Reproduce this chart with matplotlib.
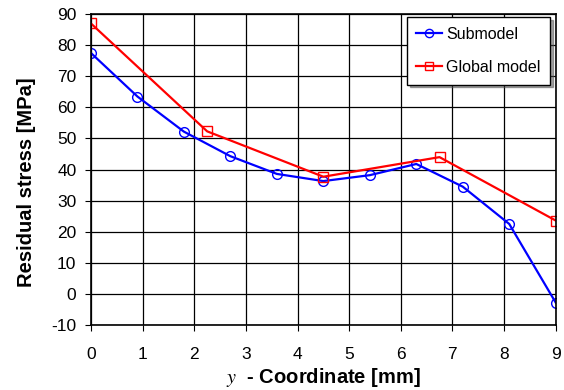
import matplotlib
matplotlib.use('Agg')
import matplotlib.pyplot as plt

plt.rcParams['font.family'] = ['Liberation Sans', 'DejaVu Sans']
plt.rcParams['mathtext.fontset'] = 'stix'
plt.rcParams['axes.unicode_minus'] = False

# Dados
sub_x = [0, 0.9, 1.8, 2.7, 3.6, 4.5, 5.4, 6.3, 7.2, 8.1, 9.0]
sub_y = [77.5, 63.5, 52.2, 44.3, 38.6, 36.3, 38.2, 41.8, 34.5, 22.5, -2.8]
glob_x = [0, 2.25, 4.5, 6.75, 9.0]
glob_y = [87.0, 52.3, 37.7, 44.0, 23.6]

fig = plt.figure(figsize=(5.64, 3.9), dpi=100)
ax = fig.add_axes([0.1613, 0.1667, 0.824, 0.797])

ax.plot(sub_x, sub_y, color='blue', lw=1.6, marker='o', ms=7,
        mfc='none', mec='blue', mew=1, label='Submodel')
ax.plot(glob_x, glob_y, color='red', lw=1.6, marker='s', ms=7,
        mfc='none', mec='red', mew=1, label='Global model')

ax.set_xlim(0, 9)
ax.set_ylim(-10, 90)
ax.set_xticks(range(0, 10))
ax.set_yticks(range(-10, 91, 10))
ax.grid(True, color='black', lw=0.9)
ax.tick_params(labelsize=12.5, direction='out', length=4.5, color='black')
ax.tick_params(axis='x', pad=11.5)
ax.tick_params(axis='y', pad=6)
for s in ax.spines.values():
    s.set_linewidth(1.2)

ax.set_xlabel('$y$  - Coordinate [mm]', fontsize=14.5, fontweight='bold', labelpad=3)
ax.set_ylabel('Residual stress [MPa]', fontsize=14.5, fontweight='bold', labelpad=8)
ax.yaxis.set_label_coords(-0.118, 0.46)

leg = ax.legend(loc='upper right', bbox_to_anchor=(550 / 564, 1 - 17 / 390),
                bbox_transform=fig.transFigure, borderaxespad=0,
                fontsize=11.5, fancybox=False, shadow=True, markerscale=0.85,
                framealpha=1, edgecolor='black', borderpad=0.6,
                handlelength=1.6, labelspacing=1.15, handletextpad=0.25)
leg.get_frame().set_linewidth(1)

fig.savefig('out.png', dpi=100)
